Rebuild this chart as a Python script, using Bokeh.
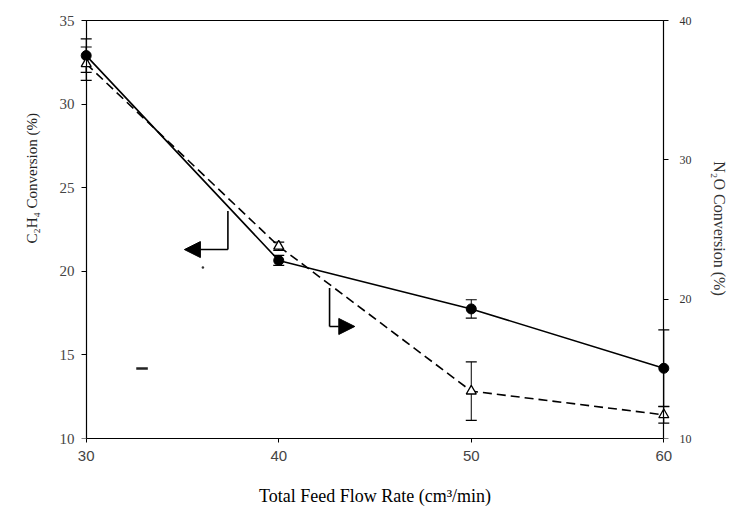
from bokeh.plotting import figure
from bokeh.models import (ColumnDataSource, Range1d, LinearAxis, Whisker, TeeHead,
                          Arrow, NormalHead, FixedTicker, Title)
from bokeh.embed import file_html
from bokeh.resources import INLINE

# ---- data ----
flow = [30, 40, 50, 60]
c2h4 = [32.9, 20.65, 17.75, 14.2]
c2h4_err = [1.0, 0.3, 0.55, 2.3]
n2o = [36.9, 23.8, 13.4, 11.7]
n2o_err = [1.2, 0.3, 2.1, 0.6]

x_ticks = [30, 40, 50, 60]
left_ticks = [10, 15, 20, 25, 30, 35]
right_ticks = [10, 20, 30, 40]

# annotation arrows (x, y in left-axis units)
left_arrow_x = [37.36, 37.36]
left_arrow_y = [23.6, 21.3]
left_arrow_tip = 35.1
right_arrow_x = [42.64, 42.64]
right_arrow_y = [19.0, 16.7]
right_arrow_tip = 43.95

# stray scan marks seen in the figure
dash_x = [32.6, 33.2]
dash_y = [14.18, 14.18]
dot_x = [36.06]
dot_y = [20.22]

SERIF = "Liberation Serif"

p = figure(width=730, height=510, output_backend="svg", toolbar_location=None,
           x_range=Range1d(29.6, 60.4), y_range=Range1d(10, 35.12))
p.min_border_left = 78
p.min_border_right = 57
p.min_border_top = 18
p.min_border_bottom = 72
p.extra_y_ranges = {"n2o": Range1d(10, 40.144)}

p.xgrid.visible = False
p.ygrid.visible = False
p.outline_line_color = None
p.background_fill_color = "white"
p.border_fill_color = "white"


def hide_line_ticks(ax):
    ax.axis_line_color = None
    ax.major_tick_line_color = None
    ax.minor_tick_line_color = None
    ax.major_tick_out = 0
    ax.major_tick_in = 0


def hide_labels(ax):
    ax.major_label_text_color = None
    ax.major_label_text_font_size = "0px"
    ax.major_label_standoff = 0
    ax.minor_tick_line_color = None


def title_style(ax, text, size, color="black"):
    ax.axis_label = text
    ax.axis_label_text_font = SERIF
    ax.axis_label_text_font_style = "normal"
    ax.axis_label_text_font_size = size
    ax.axis_label_text_color = color


# ---- x axis: line, ticks, labels, title ----
xa = p.xaxis[0]
xa.ticker = FixedTicker(ticks=x_ticks)
xa.bounds = (30, 60)
xa.major_label_text_font = "Liberation Sans"
xa.major_label_text_font_size = "15px"
xa.major_label_standoff = 8
xa.major_tick_out = 4
xa.major_tick_in = 0
xa.minor_tick_line_color = None
xa.axis_line_width = 1.2
title_style(xa, "Total Feed Flow Rate (cm³/min)", "18px")
xa.axis_label_standoff = 22

# ---- left axis: tick labels at the frame edge ----
ya = p.yaxis[0]
ya.ticker = FixedTicker(ticks=left_ticks)
hide_line_ticks(ya)
ya.major_label_text_font = SERIF
ya.major_label_text_font_size = "15px"
ya.major_label_standoff = 4

# left axis line + ticks at x = 30
ya2 = LinearAxis(ticker=FixedTicker(ticks=left_ticks), bounds=(10, 35),
                 fixed_location=30)
hide_labels(ya2)
ya2.major_tick_out = 5
ya2.major_tick_in = 0
ya2.axis_line_width = 1.2
p.add_layout(ya2, "left")

# left title, placed higher up as in the reference
p.add_layout(Title(text="C₂H₄ Conversion (%)", align="left", offset=195,
                   text_font=SERIF, text_font_style="normal",
                   text_color="#222222", text_font_size="15px",
                   standoff=34), "left")

# ---- right axis: tick labels + title ----
ra = LinearAxis(y_range_name="n2o", ticker=FixedTicker(ticks=right_ticks))
hide_line_ticks(ra)
title_style(ra, "N₂O Conversion (%)", "16px", "#333333")
ra.axis_label_standoff = 16
ra.major_label_text_font = SERIF
ra.major_label_text_font_size = "12px"
ra.major_label_text_color = "#333333"
ra.major_label_standoff = 8
p.add_layout(ra, "right")

# right axis line + ticks at x = 60
ra2 = LinearAxis(y_range_name="n2o", ticker=FixedTicker(ticks=right_ticks),
                 bounds=(10, 40), fixed_location=60)
hide_labels(ra2)
ra2.major_tick_out = 5
ra2.major_tick_in = 0
ra2.axis_line_width = 1.2
p.add_layout(ra2, "right")

# top border of the plot box
p.line([x_ticks[0], x_ticks[-1]], [left_ticks[-1], left_ticks[-1]],
       line_color="black", line_width=1.2)

# sources
src_c = ColumnDataSource(dict(x=flow, y=c2h4,
                              lo=[v - e for v, e in zip(c2h4, c2h4_err)],
                              hi=[v + e for v, e in zip(c2h4, c2h4_err)]))
src_n = ColumnDataSource(dict(x=flow, y=n2o,
                              lo=[v - e for v, e in zip(n2o, n2o_err)],
                              hi=[v + e for v, e in zip(n2o, n2o_err)]))

# error bars
for src, rng in ((src_c, "default"), (src_n, "n2o")):
    w = Whisker(source=src, base="x", lower="lo", upper="hi", y_range_name=rng,
                line_color="black", line_width=1,
                upper_head=TeeHead(size=11, line_color="black", line_width=1.2),
                lower_head=TeeHead(size=11, line_color="black", line_width=1.2))
    p.add_layout(w)

# lines
p.line("x", "y", source=src_n, y_range_name="n2o", line_color="black",
       line_width=1.6, line_dash="9 5")
p.line("x", "y", source=src_c, line_color="black", line_width=1.6)

# markers
p.scatter("x", "y", source=src_c, marker="circle", size=10,
          fill_color="black", line_color="black")
p.scatter("x", "y", source=src_n, y_range_name="n2o", marker="triangle", size=10,
          fill_color="white", line_color="black", line_width=1.3)

# arrows
p.line(left_arrow_x, left_arrow_y, line_color="black", line_width=1.6)
p.add_layout(Arrow(end=NormalHead(size=16, fill_color="black", line_color="black"),
                   x_start=left_arrow_x[1], y_start=left_arrow_y[1],
                   x_end=left_arrow_tip, y_end=left_arrow_y[1],
                   line_color="black", line_width=1.6))
p.line(right_arrow_x, right_arrow_y, line_color="black", line_width=1.6)
p.add_layout(Arrow(end=NormalHead(size=16, fill_color="black", line_color="black"),
                   x_start=right_arrow_x[1], y_start=right_arrow_y[1],
                   x_end=right_arrow_tip, y_end=right_arrow_y[1],
                   line_color="black", line_width=1.6))

# scan marks
p.line(dash_x, dash_y, line_color="#222222", line_width=2.5)
p.scatter(dot_x, dot_y, marker="circle", size=2.5, fill_color="#333333",
          line_color=None)

open("out.html", "w").write(file_html(p, INLINE))
